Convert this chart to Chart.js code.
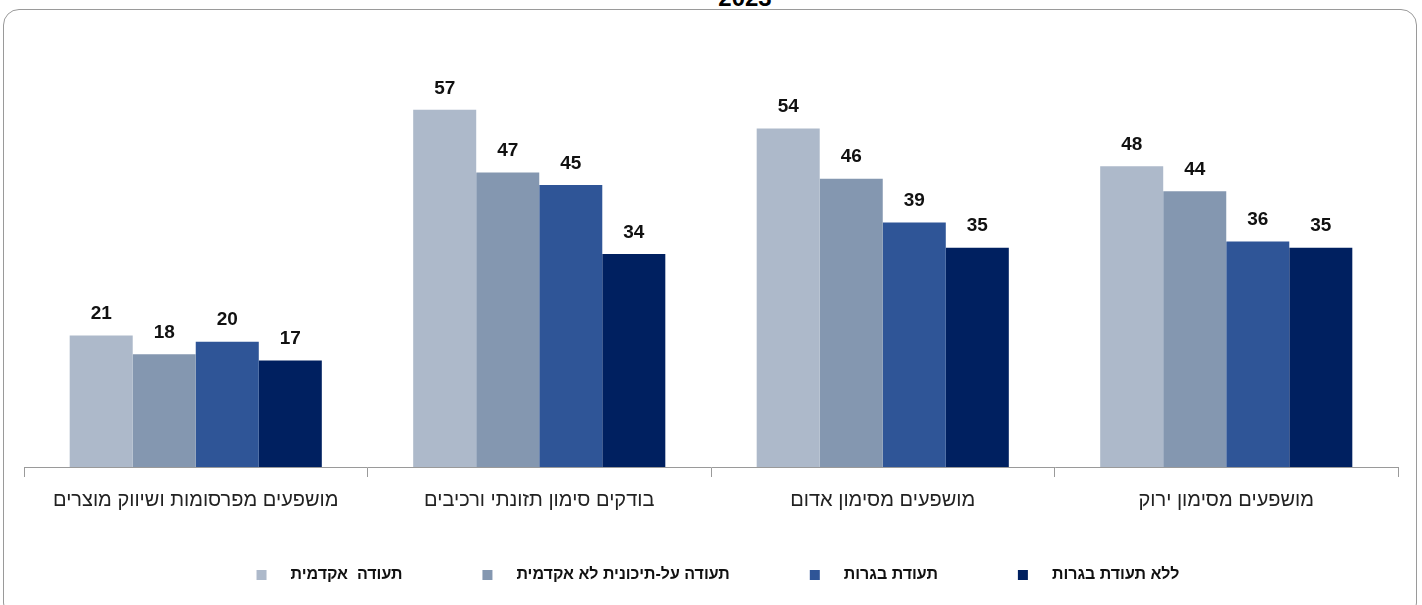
<!DOCTYPE html>
<html>
<head>
<meta charset="utf-8">
<script src="https://cdn.jsdelivr.net/npm/chart.js@4/dist/chart.umd.min.js"></script>
<style>
  html, body { margin: 0; padding: 0; background: #fff; }
  .wrap { position: relative; width: 1422px; height: 605px; overflow: hidden; }
  .card {
    position: absolute; left: 3px; top: 9px; width: 1414px; height: 610px;
    border: 1.5px solid #9a9a9a; border-radius: 16px; box-sizing: border-box;
  }
  .title {
    position: absolute; left: 0; width: 1490px; top: -16px; text-align: center;
    font: bold 24px "Liberation Sans", Arial, sans-serif; color: #000;
  }
  canvas { position: absolute; left: 0; top: 0; }
</style>
</head>
<body>
<div class="wrap">
  <div class="title">2023</div>
  <div class="card"></div>
  <canvas id="myChart" width="1422" height="605"></canvas>
</div>
<script>
const categories = [
  'מושפעים מפרסומות ושיווק מוצרים',
  'בודקים סימון תזונתי ורכיבים',
  'מושפעים מסימון אדום',
  'מושפעים מסימון ירוק'
]
const seriesNames = ['תעודה  אקדמית', 'תעודה על-תיכונית לא אקדמית', 'תעודת בגרות', 'ללא תעודת בגרות']
const academic = [21, 57, 54, 48]
const postSecondary = [18, 47, 46, 44]
const matriculation = [20, 45, 39, 36]
const noMatriculation = [17, 34, 35, 35]
const colors = ['#adb9ca', '#8497b0', '#2f5597', '#002060']

const values = [academic, postSecondary, matriculation, noMatriculation]

// value labels above each bar
const barLabels = {
  id: 'barLabels',
  afterDatasetsDraw(chart) {
    const ctx = chart.ctx
    ctx.save()
    ctx.font = 'bold 19px "Liberation Sans", Arial, sans-serif'
    ctx.fillStyle = '#111'
    ctx.textAlign = 'center'
    ctx.textBaseline = 'bottom'
    chart.data.datasets.forEach((ds, i) => {
      chart.getDatasetMeta(i).data.forEach((bar, j) => {
        ctx.fillText(ds.data[j], bar.x, bar.y - 12)
      })
    })
    ctx.restore()
  }
}

// legend with wider gaps, like the original
const bottomLegend = {
  id: 'bottomLegend',
  afterDraw(chart) {
    const ctx = chart.ctx
    const box = 10, gapText = 24, gapItem = 80
    ctx.save()
    ctx.font = 'bold 16px "Liberation Sans", Arial, sans-serif'
    const widths = chart.data.datasets.map(ds => ctx.measureText(ds.label).width)
    const total = widths.reduce((a, w) => a + box + gapText + w, 0) + gapItem * (widths.length - 1)
    let x = (chart.chartArea.left + chart.chartArea.right) / 2 - total / 2 + 7
    const y = 575
    ctx.textBaseline = 'middle'
    ctx.textAlign = 'left'
    chart.data.datasets.forEach((ds, i) => {
      ctx.fillStyle = ds.backgroundColor
      ctx.fillRect(x, y - box / 2, box, box)
      ctx.fillStyle = '#111'
      ctx.fillText(ds.label, x + box + gapText, y)
      x += box + gapText + widths[i] + gapItem
    })
    ctx.restore()
  }
}

new Chart(document.getElementById('myChart'), {
  type: 'bar',
  data: {
    labels: categories,
    datasets: values.map((v, i) => ({
      label: seriesNames[i],
      data: v,
      backgroundColor: colors[i],
      barPercentage: 1,
      categoryPercentage: 0.734
    }))
  },
  options: {
    responsive: false,
    animation: false,
    layout: { padding: { left: 24, right: 24, top: 91, bottom: 82 } },
    plugins: {
      legend: { display: false },
      tooltip: { enabled: false }
    },
    scales: {
      x: {
        grid: { display: true, drawOnChartArea: false, drawTicks: true, tickLength: 10, color: '#9a9a9a', offset: true },
        border: { display: true, color: '#9a9a9a', width: 1 },
        ticks: { color: '#222', padding: 11, font: { size: 20, family: '"Liberation Sans", Arial, sans-serif' } }
      },
      y: {
        display: false,
        min: 0,
        max: 60
      }
    }
  },
  plugins: [barLabels, bottomLegend]
})
</script>
</body>
</html>
